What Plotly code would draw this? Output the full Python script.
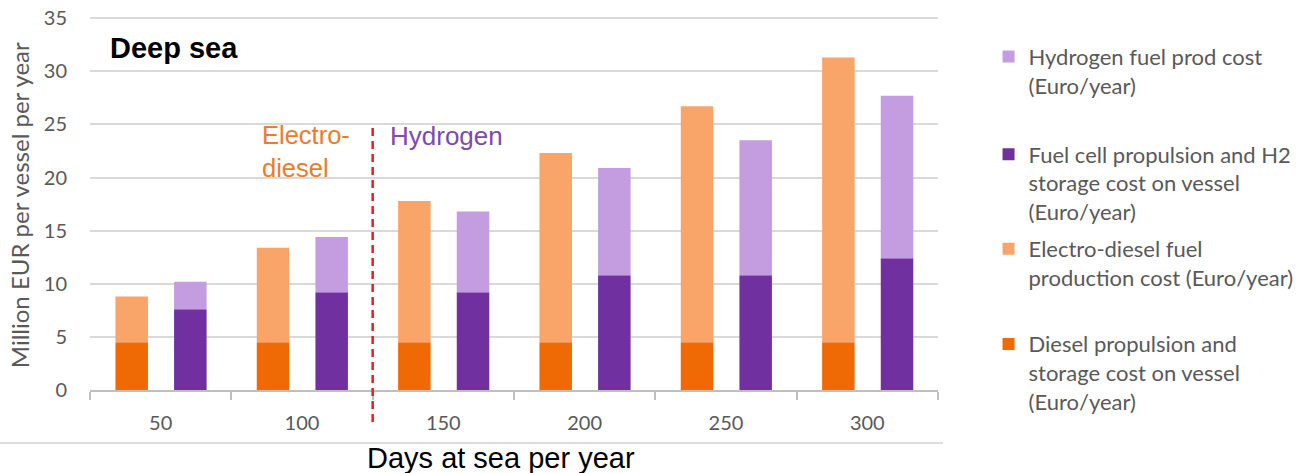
import plotly.graph_objects as go

# Days at sea per year (categories)
days = ["50", "100", "150", "200", "250", "300"]

# Cost components, million EUR per vessel per year
diesel_propulsion = [4.5, 4.5, 4.5, 4.5, 4.5, 4.5]
electro_diesel_fuel = [4.3, 8.9, 13.3, 17.8, 22.2, 26.8]
fuel_cell_storage = [7.6, 9.2, 9.2, 10.8, 10.8, 12.4]
hydrogen_fuel = [2.6, 5.2, 7.6, 10.1, 12.7, 15.3]

y_ticks = [0, 5, 10, 15, 20, 25, 30, 35]

C_DIESEL = "#EF6A05"
C_EDIESEL = "#F9A468"
C_FC = "#7030A0"
C_H2 = "#C39DE0"
GRAY_TXT = "#595959"
FONT = "Lato"

BAR_W = 0.23
OFF_DIESEL = -0.32
OFF_H2 = 0.095

# Plot area spans 390 px (y=0) up to 15 px (y=35.3): 375 px tall
PLOT_H = 375.0


def py(pixel_from_top):
    """Convert a pixel row of the page to paper y."""
    return (390.0 - pixel_from_top) / PLOT_H


fig = go.Figure()

fig.add_trace(go.Bar(
    x=days, y=diesel_propulsion, base=[0] * len(days),
    name="Diesel propulsion and<br>storage cost on vessel<br>(Euro/year)",
    marker=dict(color=C_DIESEL, line=dict(width=0)),
    width=BAR_W, offset=OFF_DIESEL, legend="legend4",
))
fig.add_trace(go.Bar(
    x=days, y=electro_diesel_fuel, base=diesel_propulsion,
    name="Electro-diesel fuel<br>production cost (Euro/year)",
    marker=dict(color=C_EDIESEL, line=dict(width=0)),
    width=BAR_W, offset=OFF_DIESEL, legend="legend3",
))
fig.add_trace(go.Bar(
    x=days, y=fuel_cell_storage, base=[0] * len(days),
    name="Fuel cell propulsion and H2<br>storage cost on vessel<br>(Euro/year)",
    marker=dict(color=C_FC, line=dict(width=0)),
    width=BAR_W, offset=OFF_H2, legend="legend2",
))
fig.add_trace(go.Bar(
    x=days, y=hydrogen_fuel, base=fuel_cell_storage,
    name="Hydrogen fuel prod cost<br>(Euro/year)",
    marker=dict(color=C_H2, line=dict(width=0)),
    width=BAR_W, offset=OFF_H2, legend="legend",
))


def legend_box(ypos):
    return dict(
        x=1.0596, y=ypos, xanchor="left", yanchor="top",
        valign="top", bgcolor="rgba(0,0,0,0)",
        font=dict(family=FONT, size=22, color=GRAY_TXT),
    )


fig.update_layout(
    width=1314, height=473,
    margin=dict(l=90, r=376, t=15, b=83, autoexpand=False),
    paper_bgcolor="white", plot_bgcolor="white",
    barmode="overlay",
    font=dict(family=FONT, color=GRAY_TXT, size=20),
    showlegend=True,
    legend=legend_box(py(35.8)),
    legend2=legend_box(py(133.5)),
    legend3=legend_box(py(227.9)),
    legend4=legend_box(py(323.1)),
    xaxis=dict(
        type="category",
        showgrid=False,
        showline=True, linecolor="#BFBFBF", linewidth=1.5,
        ticks="outside", tickson="boundaries", ticklen=8,
        tickcolor="#BFBFBF", tickwidth=1.5,
        ticklabelstandoff=14,
        tickfont=dict(family=FONT, size=20, color=GRAY_TXT),
        range=[-0.5, 5.5],
    ),
    yaxis=dict(
        range=[0, 35.3],
        tickvals=y_ticks,
        showgrid=True, gridcolor="#D9D9D9", gridwidth=1.5,
        zeroline=False, showline=False,
        ticks="", ticklabelstandoff=22,
        tickfont=dict(family=FONT, size=20, color=GRAY_TXT),
    ),
)

# Boundary between the electro-diesel and hydrogen regimes
fig.add_shape(
    type="line", xref="x", yref="paper",
    x0=1.5, x1=1.5, y0=py(422), y1=py(125),
    line=dict(color="#E0202A", width=2.5, dash="8px,5px"),
)
# Frame line under the axis labels
fig.add_shape(
    type="line", xref="paper", yref="paper",
    x0=-0.106, x1=1.006, y0=py(443), y1=py(443),
    line=dict(color="#D0D0D0", width=1.5),
)

fig.add_annotation(
    text="<b>Deep sea</b>", xref="paper", yref="paper",
    x=0.021, y=py(48), xanchor="left", yanchor="middle", showarrow=False,
    font=dict(family="Liberation Sans", size=29, color="black"),
)
fig.add_annotation(
    text="Electro-<br>diesel", xref="paper", yref="paper",
    x=0.2, y=py(118.7), xanchor="left", yanchor="top", showarrow=False,
    align="left",
    font=dict(family="Liberation Sans", size=25.5, color="#E87D2C"),
)
fig.add_annotation(
    text="Hydrogen", xref="paper", yref="paper",
    x=0.352, y=py(118.7), xanchor="left", yanchor="top", showarrow=False,
    font=dict(family="Liberation Sans", size=26, color="#7A4BB0"),
)
fig.add_annotation(
    text="Million EUR per vessel per year", xref="paper", yref="paper",
    x=-0.083, y=py(205.6), textangle=-90, xanchor="center", yanchor="middle",
    showarrow=False, font=dict(family=FONT, size=24, color=GRAY_TXT),
)
fig.add_annotation(
    text="Days at sea per year", xref="paper", yref="paper",
    x=0.4847, y=py(458), xanchor="center", yanchor="middle", showarrow=False,
    font=dict(family="Liberation Sans", size=29, color="black"),
)

fig.write_html("out.html")
